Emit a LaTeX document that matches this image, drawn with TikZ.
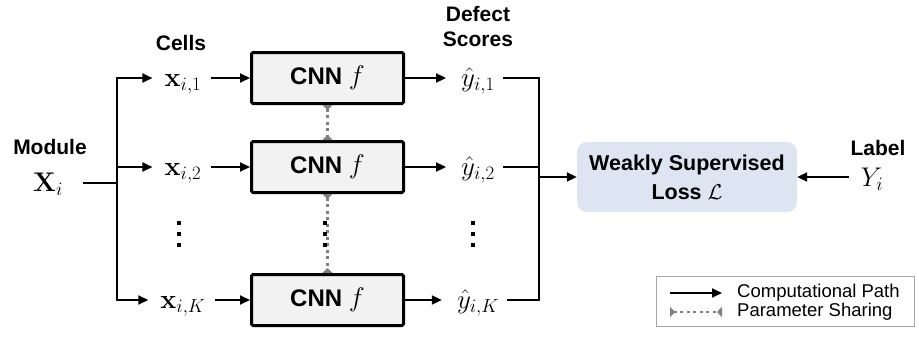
\RequirePackage{fix-cm}
\documentclass[tikz,border=0pt]{standalone}
\usepackage[no-math]{fontspec}
\setmainfont{Liberation Sans}
\usetikzlibrary{arrows.meta}
\definecolor{boxfill}{HTML}{F2F2F2}
\definecolor{lossfill}{HTML}{DCE5F1}
\definecolor{sharegray}{HTML}{808080}
\definecolor{legborder}{HTML}{A6A6A6}
\tikzset{
  maintip/.tip={Triangle[length=10pt,width=9pt]},
  sharetip/.tip={Triangle[reversed,length=5pt,width=10pt]},
}
\newcommand{\bigf}{{\fontsize{27}{30}\selectfont$f$}}
\begin{document}
\begin{tikzpicture}[x=1pt,y=-1pt,
  arr/.style={line width=2pt,arrows={-maintip}},
  link/.style={line width=2pt},
  share/.style={draw=sharegray,line width=3pt,dash pattern=on 3pt off 3.5pt,arrows={sharetip-sharetip}},
  cnn/.style={draw,line width=3pt,fill=boxfill,minimum width=152pt,minimum height=51pt,rounded corners=1.5pt,font=\fontsize{24}{28}\selectfont\bfseries},
  lbl/.style={font=\fontsize{21}{25}\selectfont\bfseries,inner sep=0pt},
  mth/.style={font=\fontsize{27}{30}\selectfont,inner sep=0pt,anchor=base},
  loss/.style={fill=lossfill,rounded corners=10pt,minimum width=220pt,minimum height=70pt,align=center,font=\fontsize{21.5}{29}\selectfont\bfseries},
  legtxt/.style={font=\fontsize{18.5}{22}\selectfont,inner sep=0pt,anchor=west},
]
\useasboundingbox (0,0) rectangle (919,338);

% labels
\node[lbl] (modlbl) at (50,147) {Module};
\node[mth] (xi) at (48,191) {$\mathbf{X}_i$};
\node[lbl] (cells) at (181,43) {Cells};
\node[lbl,align=center] (ds) at (478,26) {Defect\\Scores};
\node[lbl] (lablbl) at (878,148) {Label};

% CNN boxes
\node[cnn] (ca) at (327.5,78) {CNN \bigf};
\node[cnn] (cb) at (327.5,167) {CNN \bigf};
\node[cnn] (cc) at (327.5,300) {CNN \bigf};

% cells
\node[mth] (xa) at (183,86) {$\mathbf{x}_{i,1}$};
\node[mth] (xb) at (183,175) {$\mathbf{x}_{i,2}$};
\node[mth] (xc) at (183,308) {$\mathbf{x}_{i,K}$};

% scores
\node[mth] (ya) at (478,86) {$\hat{y}_{i,1}$};
\node[mth] (yb) at (478,175) {$\hat{y}_{i,2}$};
\node[mth] (yc) at (478,308) {$\hat{y}_{i,K}$};

% loss and label
\node[loss] (loss) at (687,177) {Weakly Supervised\\Loss $\mathcal{L}$};
\node[mth] (yi) at (872,186) {$Y_i$};

\coordinate (split) at (117,183);
\coordinate (merge) at (539,177);

% module to cells
\draw[link,shorten <=20pt] (xi.east |- split) -- (split);
\draw[link,line cap=rect] (split |- ca) -- (split |- cc);
\draw[arr,shorten >=12pt] (split |- ca) -- (xa.west |- ca);
\draw[arr,shorten >=12pt] (split |- cb) -- (xb.west |- cb);
\draw[arr,shorten >=12pt] (split |- cc) -- (xc.west |- cc);

% cells to CNN
\draw[arr,shorten <=9pt] (xa.east |- ca) -- (ca.west);
\draw[arr,shorten <=9pt] (xb.east |- cb) -- (cb.west);
\draw[arr,shorten <=9pt] (xc.east |- cc) -- (cc.west);

% CNN to scores
\draw[arr,shorten >=15pt] (ca.east) -- (ya.west |- ca);
\draw[arr,shorten >=15pt] (cb.east) -- (yb.west |- cb);
\draw[arr,shorten >=15pt] (cc.east) -- (yc.west |- cc);

% scores to loss
\draw[link,shorten <=8pt,shorten >=8pt] (ya.east |- ca) -- (merge |- ca) -- (merge |- cc) -- (yc.east |- cc);
\draw[link,shorten <=8pt] (yb.east |- cb) -- (merge |- cb);
\draw[arr] (merge) -- (loss.west);

% label to loss
\draw[arr,shorten <=12pt] (yi.west |- loss.east) -- (loss.east);

% parameter sharing
\draw[share] (ca.south) -- (cb.north);
\draw[share] (cb.south) -- (cc.north);

% vertical ellipses
\foreach \xx in {179,325,473}
  \foreach \yy in {223,234,245}
    \fill (\xx-2,\yy-2) rectangle ++(4,4);

% legend
\node[draw=legborder,line width=1pt,minimum width=258pt,minimum height=50pt,inner sep=0pt] (legend) at (785,301) {};
\node[legtxt] (lt1) at (737,293) {Computational Path};
\node[legtxt] (lt2) at (737,312) {Parameter Sharing};
\draw[arr,line width=1.8pt,shorten >=15pt] ([xshift=-67pt]lt1.west) -- (lt1.west);
\draw[share,line width=2pt,shorten >=15pt] ([xshift=-67pt]lt2.west) -- (lt2.west);
\end{tikzpicture}
\end{document}
